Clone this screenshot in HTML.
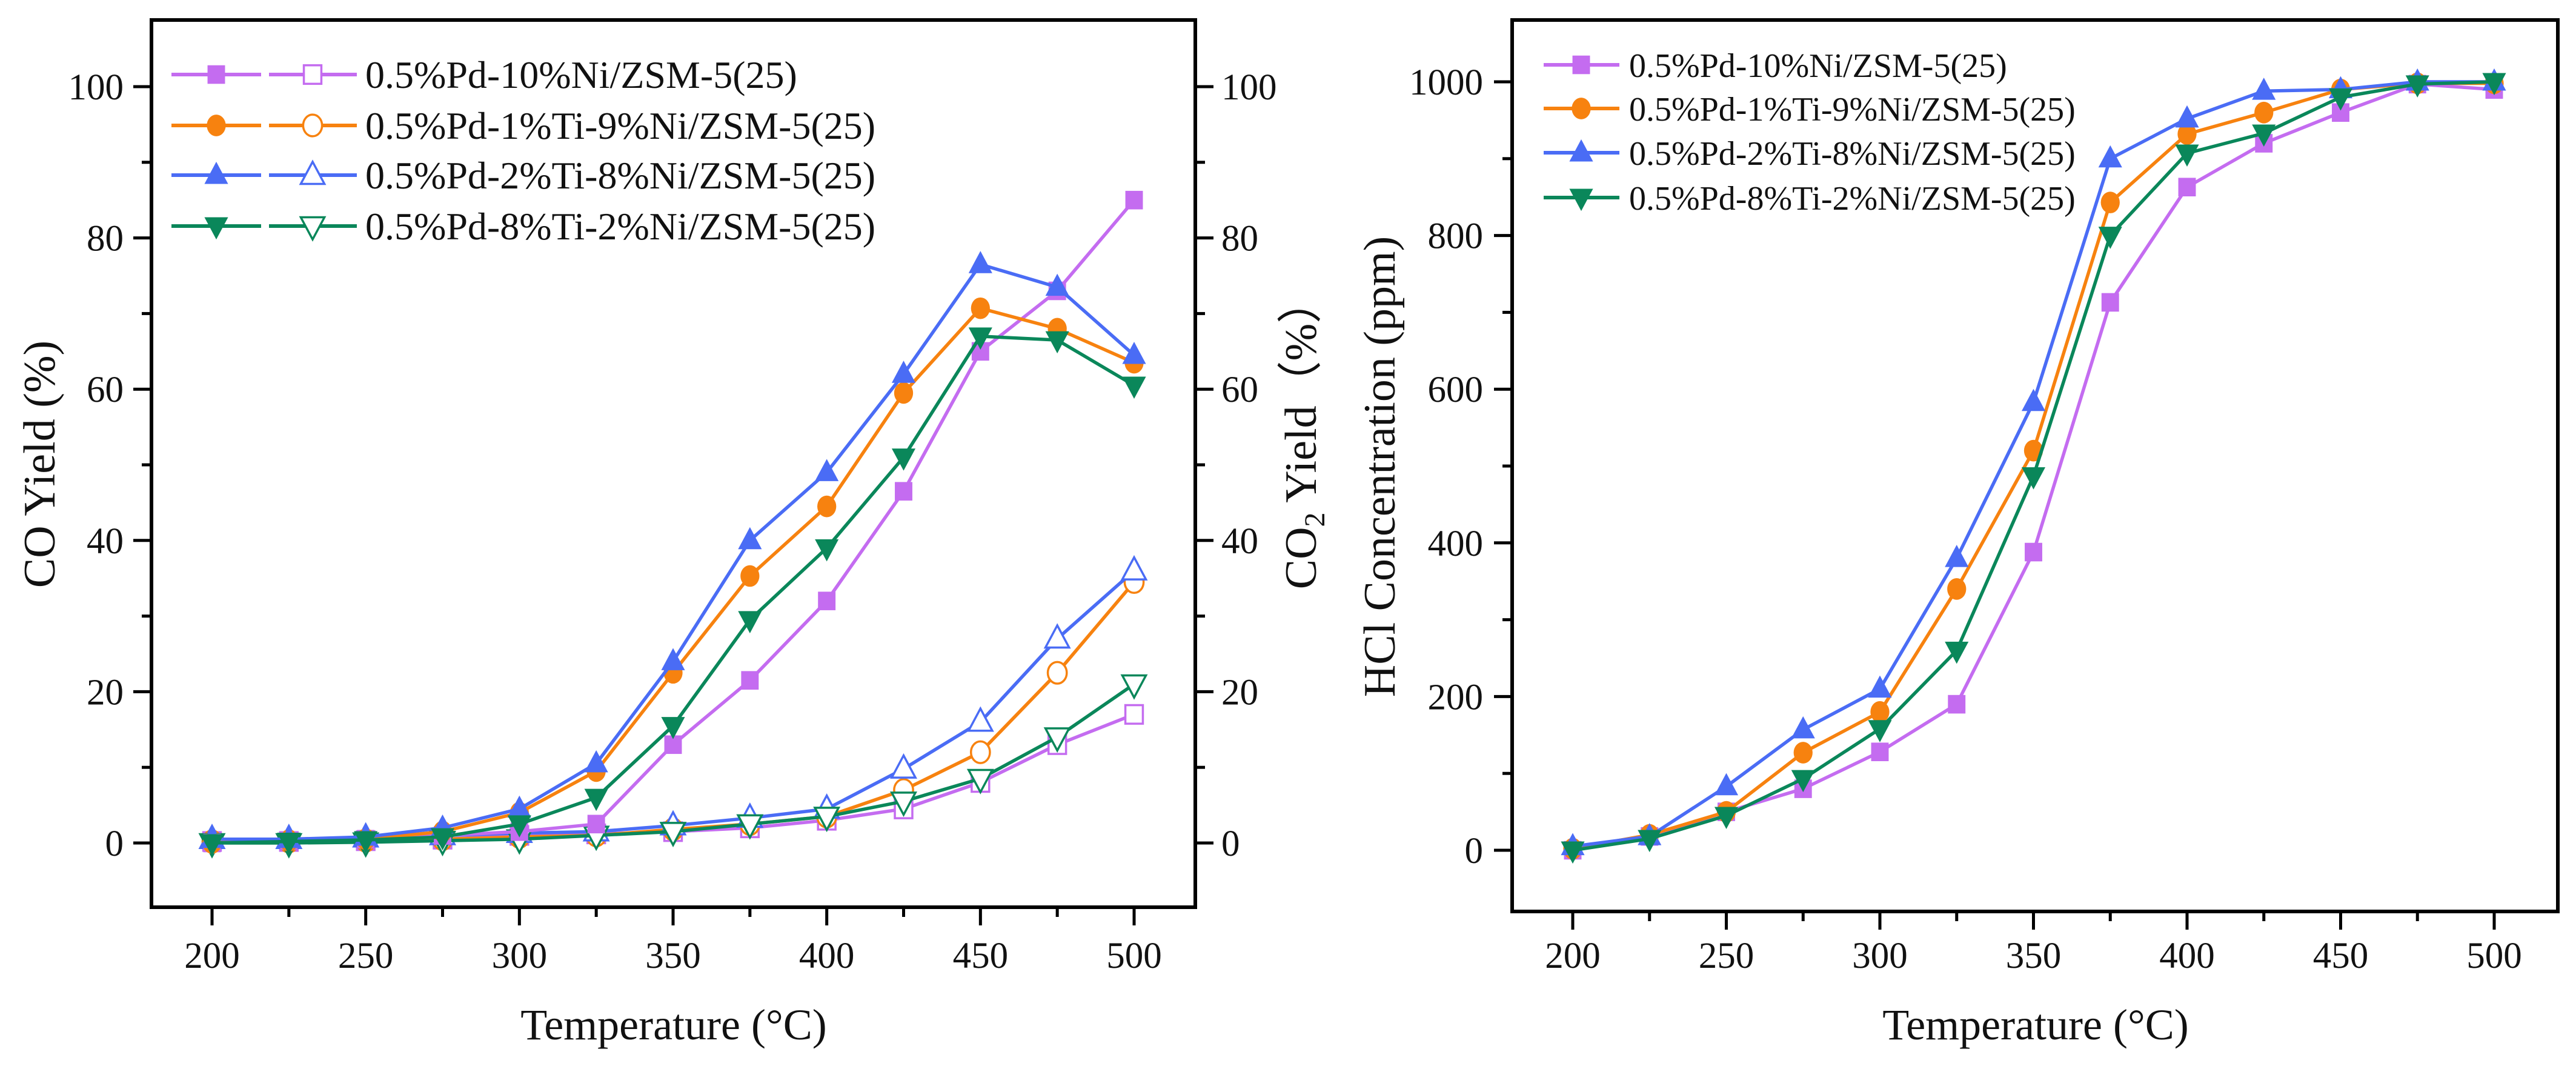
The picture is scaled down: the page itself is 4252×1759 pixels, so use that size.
<!DOCTYPE html>
<html><head><meta charset="utf-8"><style>
html,body{margin:0;padding:0;background:#fff;}
svg{display:block;}
svg text{font-family:"Liberation Serif","Times New Roman",serif;}
</style></head><body>
<svg id="fig" width="4252" height="1759" viewBox="0 0 4252 1759" xmlns="http://www.w3.org/2000/svg" font-family="Liberation Serif, serif">
<rect width="4252" height="1759" fill="#fff"/>
<g id="left"></g>
<g id="right"></g>
</svg>
<script>
const temps=[200,225,250,275,300,325,350,375,400,425,450,475,500];
const seriesNames=["0.5%Pd-10%Ni/ZSM-5(25)","0.5%Pd-1%Ti-9%Ni/ZSM-5(25)","0.5%Pd-2%Ti-8%Ni/ZSM-5(25)","0.5%Pd-8%Ti-2%Ni/ZSM-5(25)"];
const coPd10Ni=[0,0.3,0.5,1,1.5,2.5,13,21.5,32,46.5,65,73,85];
const coTi1=[0,0.3,0.5,1.5,4,9.5,22.5,35.3,44.5,59.5,70.7,68,63.5];
const coTi2=[0.5,0.5,0.8,2,4.5,10.5,24,40,49,62,76.5,73.5,64.5];
const coTi8=[0,0.2,0.4,0.8,2.5,6,15.5,29.5,39,51,67,66.5,60.5];
const co2Pd10Ni=[0.2,0.2,0.3,0.5,1,1.2,1.5,2,3,4.5,8,13,17];
const co2Ti1=[0.2,0.2,0.3,0.5,0.8,1,1.8,2.5,3.5,7,12,22.5,34.5];
const co2Ti2=[0.5,0.5,0.7,1,1.3,1.5,2.3,3.3,4.5,9.8,16,27,36];
const co2Ti8=[0,0,0.1,0.3,0.5,1,1.5,2.5,3.5,5.5,8.5,14,21];
const hclPd10Ni=[0,18,50,80,128,190,388,713,863,920,960,997,990];
const hclTi1=[2,20,50,127,180,340,520,843,932,960,990,998,998];
const hclTi2=[5,18,83,157,210,380,583,900,952,988,990,1000,1000];
const hclTi8=[0,15,45,93,158,260,487,800,907,933,980,997,1000];
const xTicks=[200,250,300,350,400,450,500];
const coTicks=[0,20,40,60,80,100];
const hclTicks=[0,200,400,600,800,1000];

const colors=["#c46cf0","#f7820f","#4a6cf5","#0a875a"];
const shapes=["square","circle","up","down"];
const NS="http://www.w3.org/2000/svg";
const FF='"Liberation Serif", serif';
function mk(parent,tag,attrs,text){const e=document.createElementNS(NS,tag);for(const k in attrs)e.setAttribute(k,attrs[k]);if(tag==="text")e.setAttribute("font-family",FF);if(text!==undefined)e.textContent=text;parent.appendChild(e);return e;}
// text drawn at base size 56 and scaled, to keep serif rendering
function txt(parent,x,y,size,anchor,content){
  const k=size/56;
  return mk(parent,"text",{x:0,y:0,"font-size":56,"text-anchor":anchor,fill:"#111",transform:`translate(${x},${y}) scale(${k})`},content);
}
function marker(g,shape,x,y,col,filled){
  const s=17;let e;
  const fill=filled?col:"#fff";
  const sw=filled?0:3.5;
  if(shape==="square")e=mk(g,"rect",{x:x-s*0.85,y:y-s*0.9,width:s*1.7,height:s*1.8,fill:fill,stroke:col,"stroke-width":sw});
  else if(shape==="circle")e=mk(g,"ellipse",{cx:x,cy:y,rx:s*0.92,ry:s*1.05,fill:fill,stroke:col,"stroke-width":sw});
  else if(shape==="up")e=mk(g,"polygon",{points:`${x},${y-s*1.3} ${x+s*1.15},${y+s*0.85} ${x-s*1.15},${y+s*0.85}`,fill:fill,stroke:col,"stroke-width":sw});
  else e=mk(g,"polygon",{points:`${x},${y+s*1.3} ${x+s*1.15},${y-s*0.85} ${x-s*1.15},${y-s*0.85}`,fill:fill,stroke:col,"stroke-width":sw});
  return e;
}
const TICKFS=61, LEGFS=64;

// LEFT CHART
const L={x0:250,x1:1973,y0:33,y1:1497};
const lx=v=>350+(v-200)*(1872-350)/300;
const ly=v=>1391-v*12.48;
const lg=document.getElementById('left');
function drawSeries(g,xs,ys,sx,sy,col,shape,filled,name){
  const sg=mk(g,"g",{});
  
  
  mk(sg,"polyline",{points:xs.map((t,i)=>sx(t)+","+sy(ys[i])).join(" "),fill:"none",stroke:col,"stroke-width":5.5,"stroke-linejoin":"round"});
  xs.forEach((t,i)=>{const m=marker(sg,shape,sx(t),sy(ys[i]),col,filled);
    
    });
}
const coSets=[coPd10Ni,coTi1,coTi2,coTi8];
const co2Sets=[co2Pd10Ni,co2Ti1,co2Ti2,co2Ti8];
for(let i=0;i<4;i++)drawSeries(lg,temps,co2Sets[i],lx,ly,colors[i],shapes[i],false,"co2-series-"+(i+1));
for(let i=0;i<4;i++)drawSeries(lg,temps,coSets[i],lx,ly,colors[i],shapes[i],true,"co-series-"+(i+1));
function frame(g,F,name){const r=mk(g,"rect",{x:F.x0,y:F.y0,width:F.x1-F.x0,height:F.y1-F.y0,fill:"none",stroke:"#000","stroke-width":6});}
frame(lg,L,"left-plot-frame");
function xAxis(g,F,sx,prefix){
  for(let t=200;t<=500;t+=25){const maj=t%50===0;mk(g,"line",{x1:sx(t),x2:sx(t),y1:F.y1,y2:F.y1+(maj?30:16),stroke:"#000","stroke-width":5});}
  xTicks.forEach(t=>{const e=txt(g,sx(t),1597,TICKFS,"middle",String(t));
    
    });
}
xAxis(lg,L,lx,"left");
for(let v=0;v<=100;v+=10){const maj=v%20===0;
  mk(lg,"line",{x1:L.x0,x2:L.x0-(maj?30:16),y1:ly(v),y2:ly(v),stroke:"#000","stroke-width":5});
  mk(lg,"line",{x1:L.x1,x2:L.x1+(maj?30:16),y1:ly(v),y2:ly(v),stroke:"#000","stroke-width":5});}
coTicks.forEach(v=>{
  const a=txt(lg,204,ly(v)+21,TICKFS,"end",String(v));
  
  
  const b=txt(lg,2016,ly(v)+21,TICKFS,"start",String(v));
  
  
});
let t1=mk(lg,"text",{x:0,y:0,"font-size":74,"text-anchor":"middle",transform:"translate(90,766) rotate(-90)",fill:"#111"},"CO Yield (%)");

let t2=mk(lg,"text",{x:0,y:0,"font-size":74,"text-anchor":"middle",transform:"translate(2172,716) rotate(-90)",fill:"#111"});

t2.innerHTML='CO<tspan font-size="48" dy="14">2</tspan><tspan dy="-14"> Yield（%）</tspan>';
let t3=mk(lg,"text",{x:1112,y:1715,"font-size":72,"text-anchor":"middle",fill:"#111"},"Temperature (°C)");

// left legend
const legRowsL=[123,207,289,373];
seriesNames.forEach((n,i)=>{
  const g=mk(lg,"g",{});
  
  
  const y=legRowsL[i];
  mk(g,"line",{x1:283,x2:431,y1:y,y2:y,stroke:colors[i],"stroke-width":6});
  mk(g,"line",{x1:444,x2:589,y1:y,y2:y,stroke:colors[i],"stroke-width":6});
  marker(g,shapes[i],357,y,colors[i],true);
  marker(g,shapes[i],516,y,colors[i],false);
  txt(g,603,y+22,LEGFS,"start",n);
});

// RIGHT CHART
const R={x0:2496,x1:4222,y0:33,y1:1504};
const rx=v=>2596+(v-200)*(4117-2596)/300;
const ry=v=>1403-v*1.268;
const rg=document.getElementById('right');
const hclSets=[hclPd10Ni,hclTi1,hclTi2,hclTi8];
for(let i=0;i<4;i++)drawSeries(rg,temps,hclSets[i],rx,ry,colors[i],shapes[i],true,"hcl-series-"+(i+1));
frame(rg,R,"right-plot-frame");
xAxis(rg,R,rx,"right");
for(let v=0;v<=1000;v+=100){const maj=v%200===0;
  mk(rg,"line",{x1:R.x0,x2:R.x0-(maj?30:16),y1:ry(v),y2:ry(v),stroke:"#000","stroke-width":5});}
hclTicks.forEach(v=>{const a=txt(rg,2448,ry(v)+21,TICKFS,"end",String(v));
  
  });
let t4=mk(rg,"text",{x:0,y:0,"font-size":74,"text-anchor":"middle",transform:"translate(2302,770) rotate(-90)",fill:"#111"},"HCl Concentration (ppm)");

let t5=mk(rg,"text",{x:3360,y:1715,"font-size":72,"text-anchor":"middle",fill:"#111"},"Temperature (°C)");

const legRowsR=[107,179,252,326];
seriesNames.forEach((n,i)=>{
  const g=mk(rg,"g",{});
  
  
  const y=legRowsR[i];
  mk(g,"line",{x1:2548,x2:2673,y1:y,y2:y,stroke:colors[i],"stroke-width":6});
  marker(g,shapes[i],2610,y,colors[i],true);
  mk(g,"text",{x:2689,y:y+20,"font-size":56,fill:"#111"},n);
});
</script>
</body></html>
